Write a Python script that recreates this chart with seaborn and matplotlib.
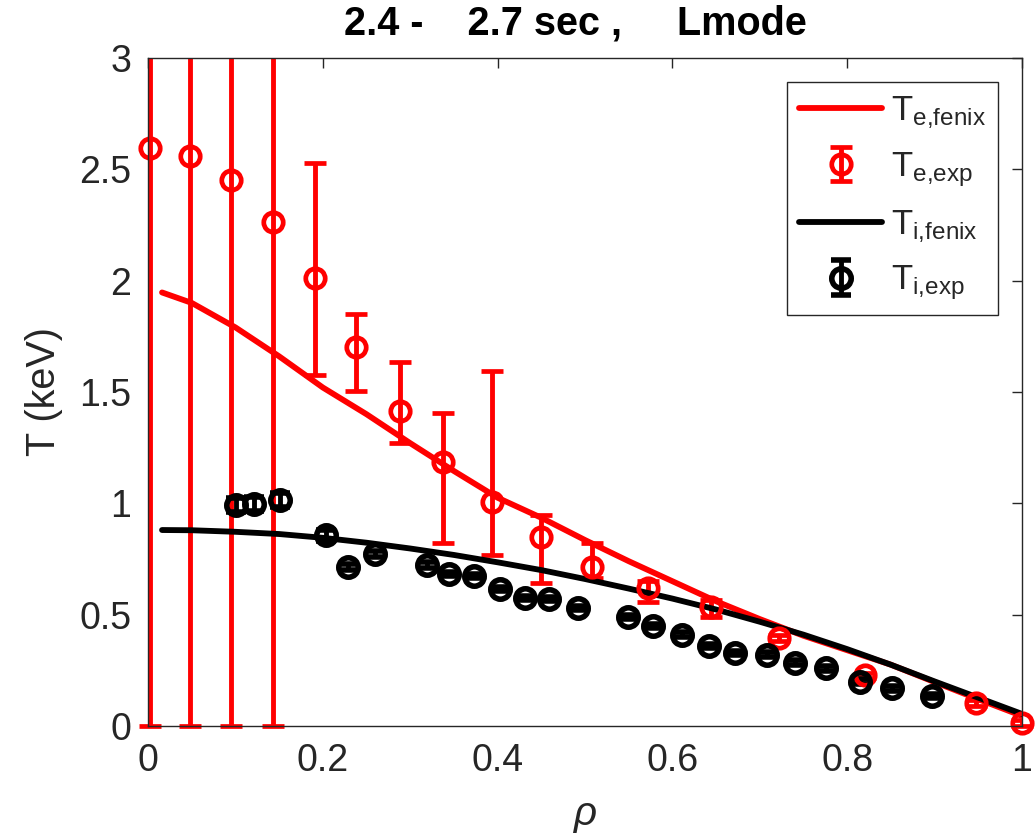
import numpy as np
import pandas as pd
import matplotlib
matplotlib.use("Agg")
import matplotlib.pyplot as plt
import seaborn as sns

# ---------------- data ----------------
rho_fenix = [0.016, 0.05, 0.10, 0.15, 0.20, 0.25, 0.30, 0.35, 0.40, 0.45, 0.50,
             0.55, 0.60, 0.65, 0.70, 0.75, 0.80, 0.85, 0.90, 0.95, 1.00]
te_fenix = [1.947, 1.90, 1.79, 1.66, 1.52, 1.40, 1.27, 1.145, 1.025, 0.935, 0.835,
            0.74, 0.65, 0.56, 0.48, 0.405, 0.34, 0.275, 0.197, 0.12, 0.045]
ti_fenix = [0.880, 0.879, 0.872, 0.862, 0.845, 0.823, 0.797, 0.768, 0.735, 0.700, 0.660,
            0.617, 0.572, 0.523, 0.468, 0.410, 0.345, 0.275, 0.200, 0.127, 0.054]

rho_te = [0.002, 0.048, 0.095, 0.143, 0.191, 0.238, 0.288, 0.338, 0.393, 0.450, 0.508,
          0.572, 0.644, 0.722, 0.820, 0.947, 1.000]
te_exp = [2.597, 2.56, 2.452, 2.265, 2.01, 1.703, 1.416, 1.184, 1.007, 0.85, 0.715,
          0.62, 0.536, 0.394, 0.229, 0.102, 0.012]
te_lo = [0.0, 0.0, 0.0, 0.0, 1.576, 1.506, 1.269, 0.823, 0.768, 0.642, 0.664,
         0.558, 0.491, 0.38, 0.215, 0.09, 0.0]
te_hi = [5.5, 5.5, 5.5, 5.5, 2.527, 1.849, 1.633, 1.404, 1.595, 0.947, 0.823,
         0.651, 0.566, 0.41, 0.24, 0.115, 0.025]

rho_ti = [0.101, 0.121, 0.151, 0.204, 0.229, 0.260, 0.319, 0.344, 0.373, 0.403, 0.431,
          0.459, 0.492, 0.549, 0.578, 0.611, 0.642, 0.672, 0.708, 0.740, 0.776, 0.815,
          0.851, 0.897]
ti_exp = [0.992, 0.997, 1.015, 0.857, 0.714, 0.772, 0.723, 0.683, 0.674, 0.615, 0.574,
          0.571, 0.530, 0.490, 0.450, 0.410, 0.360, 0.327, 0.320, 0.284, 0.259, 0.199,
          0.169, 0.135]
ti_err = [0.03, 0.03, 0.03, 0.025, 0.012, 0.012, 0.012, 0.01, 0.01, 0.01, 0.01,
          0.01, 0.01, 0.01, 0.01, 0.01, 0.01, 0.01, 0.01, 0.01, 0.01, 0.01,
          0.01, 0.01]

xticks = [0, 0.2, 0.4, 0.6, 0.8, 1.0]
xtick_labels = ["0", "0.2", "0.4", "0.6", "0.8", "1"]
yticks = [0, 0.5, 1.0, 1.5, 2.0, 2.5, 3.0]
ytick_labels = ["0", "0.5", "1", "1.5", "2", "2.5", "3"]

title = "2.4 -    2.7 sec ,     Lmode"
labels = [r"T$_{\mathregular{e{,}fenix}}$", r"T$_{\mathregular{e{,}exp}}$",
          r"T$_{\mathregular{i{,}fenix}}$", r"T$_{\mathregular{i{,}exp}}$"]

# ---------------- style ----------------
sns.set_style("white")
plt.rcParams["font.family"] = ["Liberation Sans", "DejaVu Sans"]
plt.rcParams["mathtext.fontset"] = "custom"
plt.rcParams["mathtext.rm"] = "Liberation Sans"
plt.rcParams["mathtext.it"] = "Liberation Sans:italic"
plt.rcParams["mathtext.bf"] = "Liberation Sans:bold"

DARK = "#262626"
fig = plt.figure(figsize=(10.36, 8.38), dpi=100)
ax = fig.add_axes([0.1429, 0.1337, 0.8436, 0.7971])

fen = pd.DataFrame({"rho": rho_fenix, "te": te_fenix, "ti": ti_fenix})

# Te fenix
sns.lineplot(data=fen, x="rho", y="te", color="#ff0000", lw=4.2, ax=ax,
             sort=False, estimator=None, legend=False)
h_te_line = ax.lines[-1]

# Te exp
te_exp_a = np.array(te_exp)
yerr_te = [te_exp_a - np.array(te_lo), np.array(te_hi) - te_exp_a]
h_te_exp = ax.errorbar(rho_te, te_exp, yerr=yerr_te, fmt="o", color="#ff0000",
                       mfc="none", mec="#ff0000", ms=14, mew=3.4,
                       elinewidth=3.5, capsize=8, capthick=3.5)
h_te_exp[0].set_clip_on(False)
h_te_exp[1][0].set_clip_on(False)

# Ti fenix
sns.lineplot(data=fen, x="rho", y="ti", color="black", lw=4.2, ax=ax,
             sort=False, estimator=None, legend=False)
h_ti_line = ax.lines[-1]

# Ti exp
h_ti_exp = ax.errorbar(rho_ti, ti_exp, yerr=ti_err, fmt="o", color="black",
                       mfc="none", mec="black", ms=14, mew=4.0,
                       elinewidth=3.5, capsize=7, capthick=3.5)

# ---------------- axes ----------------
ax.set_xlim(0, 1)
ax.set_ylim(0, 3)
ax.set_xticks(xticks)
ax.set_xticklabels(xtick_labels)
ax.set_yticks(yticks)
ax.set_yticklabels(ytick_labels)
ax.tick_params(direction="in", length=7, width=1, colors=DARK, labelsize=27,
               top=True, right=True, pad=12)
for s in ax.spines.values():
    s.set_visible(True)
    s.set_color(DARK)
    s.set_linewidth(1)

ax.set_title(title, fontsize=28.5, fontweight="bold", pad=17, color="black",
             x=0.489)
ax.set_ylabel("T (keV)", fontsize=28.5, color=DARK, labelpad=12)
ax.set_xlabel("ρ", fontsize=29, style="italic", color=DARK, labelpad=12)

leg = ax.legend([h_te_line, h_te_exp, h_ti_line, h_ti_exp], labels,
                loc="upper right", bbox_to_anchor=(0.9725, 0.964),
                borderaxespad=0, fontsize=25, frameon=True, fancybox=False,
                edgecolor=DARK, framealpha=1, handlelength=2.4,
                handletextpad=0.25, labelspacing=0.55, borderpad=0.35)
leg.get_frame().set_linewidth(1)

fig.savefig("out.png", dpi=100)
